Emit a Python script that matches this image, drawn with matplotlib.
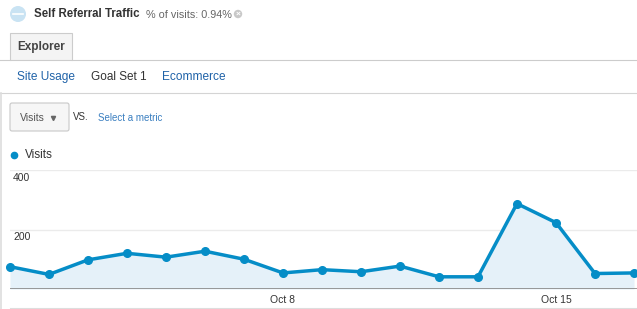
import matplotlib
matplotlib.use("Agg")
import matplotlib.pyplot as plt
from matplotlib.patches import FancyBboxPatch, Rectangle, Circle

plt.rcParams['font.family'] = ['Liberation Sans', 'DejaVu Sans']

# Daily visits, Oct 1 .. Oct 17
days = [1, 2, 3, 4, 5, 6, 7, 8, 9, 10, 11, 12, 13, 14, 15, 16, 17]
visits = [75, 49, 98, 120, 107, 127, 100, 54, 65, 58, 77, 41, 41, 287, 223, 52, 54]
tick_days = [8, 15]
tick_labels = ["Oct 8", "Oct 15"]
y_ticks = [200, 400]

W, H = 637, 309
line_blue = "#058dc7"
fill_blue = "#e5f1f9"
link_blue = "#1f62a8"

fig = plt.figure(figsize=(W / 100, H / 100), dpi=100, facecolor="white")

# Overlay in pixel coordinates for the page furniture.
deco = fig.add_axes([0, 0, 1, 1])
deco.set_xlim(0, W)
deco.set_ylim(H, 0)
deco.axis("off")

# Segment icon and title.
deco.add_patch(Circle((18, 14), 8, color="#c9e3f3", lw=0))
deco.plot([13, 23], [14, 14], color="white", lw=1.2)
deco.text(34, 14, "Self Referral Traffic", fontsize=8.3, fontweight="bold",
          color="#333333", va="center")
deco.text(146, 14.5, "% of visits: 0.94%", fontsize=7.8, color="#666666", va="center")
deco.add_patch(Circle((238, 14), 4.2, color="#c8c8c8", lw=0))
deco.text(238, 14.2, "×", fontsize=6, color="white", ha="center", va="center",
          fontweight="bold")

# Tab.
deco.add_patch(Rectangle((10, 33), 62, 27, facecolor="#f4f4f4",
                         edgecolor="#cccccc", lw=0.8))
deco.plot([0, 10], [60, 60], color="#cccccc", lw=0.8)
deco.plot([72, W], [60, 60], color="#cccccc", lw=0.8)
deco.text(17, 47, "Explorer", fontsize=8.5, fontweight="bold", color="#444444",
          va="center")

deco.text(17, 77, "Site Usage", fontsize=8.6, color=link_blue, va="center")
deco.text(91, 77, "Goal Set 1", fontsize=8.5, color="#333333", va="center")
deco.text(162, 77, "Ecommerce", fontsize=8.6, color=link_blue, va="center")
deco.plot([0, W], [93, 93], color="#d4d4d4", lw=0.8)
deco.plot([1, 1], [93, H], color="#dddddd", lw=1.2)

# Metric selector.
deco.add_patch(FancyBboxPatch((10, 103), 59, 28, boxstyle="round,pad=0,rounding_size=2",
                              facecolor="#f6f6f6", edgecolor="#c8c8c8", lw=0.8))
deco.text(20, 118, "Visits", fontsize=7.5, color="#555555", va="center")
deco.plot([53], [117.5], marker="v", color="#666666", markersize=3)
deco.text(73, 117, "VS.", fontsize=7, color="#333333", va="center")
deco.text(98, 118, "Select a metric", fontsize=7, color="#3a7fc0", va="center")

# Legend.
deco.plot([14], [155], marker="o", color=line_blue, markersize=4.5)
deco.text(25, 155, "Visits", fontsize=8.5, color="#333333", va="center")
deco.plot([10, W], [308, 308], color="#dddddd", lw=0.8)

# Chart.
x0, x_step = 10, 39
ax = fig.add_axes([x0 / W, (H - 289) / H, (W - x0) / W, (289 - 170) / H])
ax.set_xlim(days[0], days[0] + (W - x0) / x_step)
ax.set_ylim(0, 400)
ax.patch.set_alpha(0)
for s in ax.spines.values():
    s.set_visible(False)
for yv in y_ticks:
    ax.axhline(yv, color="#ebebeb", lw=1, zorder=0)
ax.axhline(0, color="#888888", lw=1.2, zorder=3)

ax.fill_between(days, visits, 0, color=fill_blue, lw=0, zorder=1)
ax.plot(days, visits, color=line_blue, lw=2.5, marker="o", markersize=5.5,
        zorder=4, clip_on=False)

ax.set_yticks([])
ax.set_xticks(tick_days)
ax.set_xticklabels(tick_labels, fontsize=7.5, color="#333333")
ax.tick_params(axis="x", length=0, pad=4)
for yv in y_ticks:
    ax.text(days[0] + 0.08, yv - 10, str(yv), fontsize=7.5, color="#333333",
            va="top", ha="left")

fig.savefig("out.png", dpi=100, facecolor="white")
